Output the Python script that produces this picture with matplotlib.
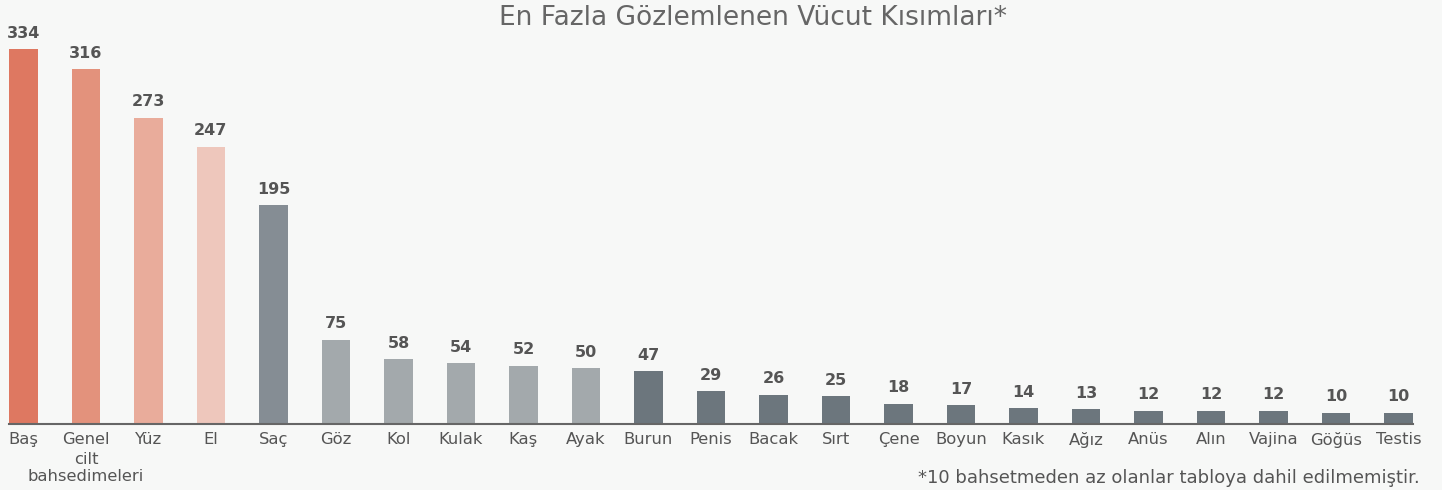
import matplotlib
matplotlib.use('Agg')
import matplotlib.pyplot as plt

# veriler
kisimlar = ['Baş', 'Genel\ncilt\nbahsedimeleri', 'Yüz', 'El', 'Saç', 'Göz', 'Kol', 'Kulak', 'Kaş',
            'Ayak', 'Burun', 'Penis', 'Bacak', 'Sırt', 'Çene', 'Boyun', 'Kasık', 'Ağız', 'Anüs',
            'Alın', 'Vajina', 'Göğüs', 'Testis']
sayilar = [334, 316, 273, 247, 195, 75, 58, 54, 52, 50, 47, 29, 26, 25, 18, 17, 14, 13, 12, 12, 12, 10, 10]
renkler = ['#DE7861', '#E3927C', '#E9AC9B', '#EEC7BC', '#858D94',
           '#A3A9AC', '#A3A9AC', '#A3A9AC', '#A3A9AC', '#A3A9AC'] + ['#6C767D'] * 13

plt.rcParams['font.family'] = ['DejaVu Sans']
bg = '#F7F8F7'
W, H = 1442, 490
fig = plt.figure(figsize=(W / 100, H / 100), dpi=100, facecolor=bg)
# osie: od 9 px do 1413 px, dol na 424 px
ax = fig.add_axes([9 / W, (H - 424) / H, 1404 / W, 404 / H], facecolor=bg)

x = range(len(kisimlar))
ax.bar(x, sayilar, width=0.46, color=renkler, zorder=2)
for i, v in enumerate(sayilar):
    ax.annotate(str(v), (i, v), xytext=(0, 6), textcoords='offset points',
                ha='center', va='bottom', fontsize=11.5, fontweight='bold', color='#555555')

# pierwsza linia jako etykieta osi, reszta osobno pod spodem
ax.set_xlim(-0.23, len(kisimlar) - 1 + 0.23)
ax.set_ylim(0, 360)
ax.set_xticks(list(x))
ax.set_xticklabels([k.split('\n')[0] for k in kisimlar], fontsize=11.8, color='#555555')
ax.tick_params(axis='x', length=0, pad=6)
for i, k in enumerate(kisimlar):
    reszta = k.split('\n')[1:]
    if reszta:
        ax.annotate('\n'.join(reszta), (i, 0), xytext=(0, -20), textcoords='offset points',
                    ha='center', va='top', fontsize=11.8, color='#555555', linespacing=1.2,
                    annotation_clip=False)
ax.set_yticks([])
for s in ['top', 'right', 'left']:
    ax.spines[s].set_visible(False)
ax.spines['bottom'].set_color('#666666')
ax.spines['bottom'].set_linewidth(1.5)

fig.text(753 / W, 1 - 18 / H, 'En Fazla Gözlemlenen Vücut Kısımları*', ha='center', va='center',
         fontsize=19, color='#666666')
fig.text(1420 / W, 1 - 478 / H, '*10 bahsetmeden az olanlar tabloya dahil edilmemiştir.',
         ha='right', va='center', fontsize=13, color='#555555')

fig.savefig('out.png', dpi=100, facecolor=bg)
